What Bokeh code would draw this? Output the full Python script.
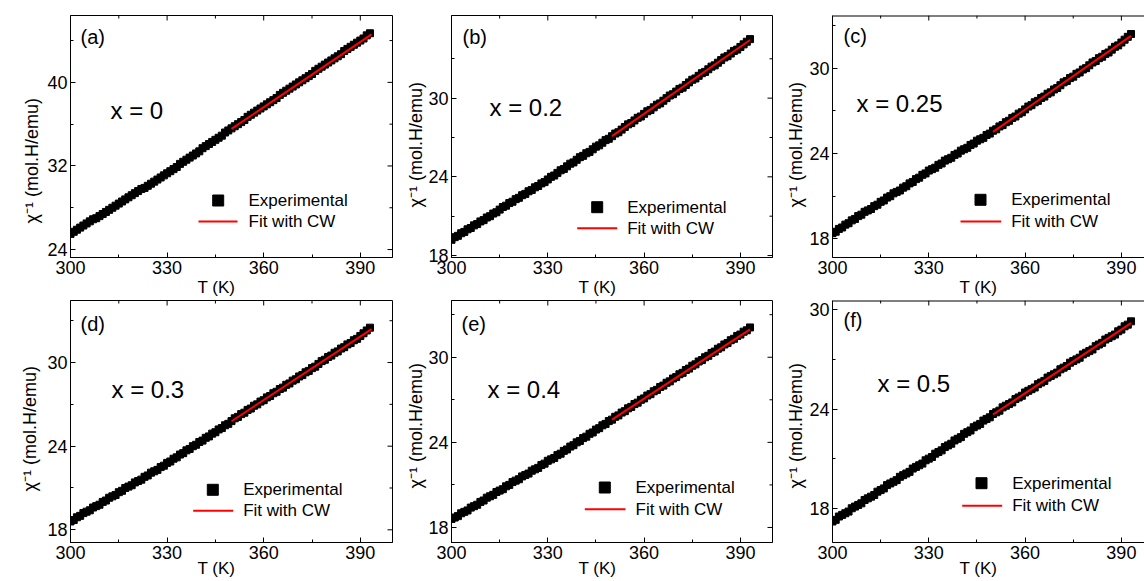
import math

from bokeh.embed import file_html
from bokeh.layouts import gridplot
from bokeh.models import FixedTicker, Label, Range1d, Title
from bokeh.plotting import figure
from bokeh.resources import INLINE

# ---------------------------------------------------------------- data
temperature = list(range(300, 394))  # K, one reading per kelvin

chi_inv_x000 = [
    25.5, 25.7, 25.9, 26.1, 26.3, 26.5, 26.7, 26.9, 27.0, 27.2,
    27.4, 27.6, 27.8, 28.0, 28.2, 28.4, 28.6, 28.8, 29.0, 29.2,
    29.4, 29.6, 29.8, 29.9, 30.1, 30.3, 30.5, 30.7, 30.9, 31.1,
    31.3, 31.5, 31.7, 31.9, 32.2, 32.4, 32.6, 32.8, 33.0, 33.2,
    33.4, 33.7, 33.9, 34.1, 34.3, 34.5, 34.7, 34.9, 35.2, 35.4,
    35.6, 35.8, 36.0, 36.2, 36.4, 36.7, 36.9, 37.1, 37.3, 37.5,
    37.7, 37.9, 38.1, 38.3, 38.5, 38.8, 39.0, 39.2, 39.4, 39.6,
    39.8, 40.0, 40.2, 40.4, 40.6, 40.8, 41.1, 41.3, 41.5, 41.7,
    41.9, 42.1, 42.3, 42.5, 42.7, 43.0, 43.2, 43.4, 43.6, 43.8,
    44.0, 44.2, 44.5, 44.7,
]
chi_inv_x020 = [
    19.2, 19.4, 19.5, 19.7, 19.8, 20.0, 20.1, 20.3, 20.4, 20.6,
    20.7, 20.9, 21.0, 21.2, 21.3, 21.5, 21.7, 21.8, 22.0, 22.1,
    22.3, 22.4, 22.6, 22.7, 22.9, 23.0, 23.2, 23.3, 23.5, 23.6,
    23.8, 24.0, 24.1, 24.3, 24.5, 24.6, 24.8, 25.0, 25.1, 25.3,
    25.5, 25.6, 25.8, 25.9, 26.1, 26.3, 26.4, 26.6, 26.8, 26.9,
    27.1, 27.3, 27.4, 27.6, 27.8, 28.0, 28.1, 28.3, 28.5, 28.6,
    28.8, 29.0, 29.1, 29.3, 29.5, 29.6, 29.8, 30.0, 30.2, 30.3,
    30.5, 30.7, 30.8, 31.0, 31.2, 31.4, 31.5, 31.7, 31.9, 32.0,
    32.2, 32.4, 32.5, 32.7, 32.9, 33.1, 33.2, 33.4, 33.6, 33.7,
    33.9, 34.1, 34.3, 34.5,
]
chi_inv_x025 = [
    18.4, 18.5, 18.7, 18.8, 19.0, 19.1, 19.3, 19.4, 19.6, 19.7,
    19.9, 20.0, 20.1, 20.3, 20.4, 20.6, 20.7, 20.9, 21.0, 21.2,
    21.3, 21.4, 21.6, 21.7, 21.9, 22.0, 22.2, 22.3, 22.5, 22.6,
    22.8, 22.9, 23.0, 23.2, 23.3, 23.5, 23.6, 23.7, 23.9, 24.0,
    24.2, 24.3, 24.4, 24.6, 24.7, 24.9, 25.0, 25.1, 25.3, 25.4,
    25.6, 25.7, 25.9, 26.0, 26.2, 26.3, 26.5, 26.6, 26.8, 26.9,
    27.1, 27.3, 27.4, 27.6, 27.7, 27.9, 28.0, 28.2, 28.3, 28.5,
    28.6, 28.8, 29.0, 29.1, 29.3, 29.4, 29.6, 29.7, 29.9, 30.0,
    30.2, 30.4, 30.5, 30.7, 30.8, 31.0, 31.1, 31.3, 31.5, 31.6,
    31.8, 32.0, 32.2, 32.4,
]
chi_inv_x030 = [
    18.6, 18.7, 18.9, 19.0, 19.2, 19.3, 19.4, 19.6, 19.7, 19.8,
    20.0, 20.1, 20.3, 20.4, 20.5, 20.7, 20.8, 21.0, 21.1, 21.2,
    21.4, 21.5, 21.6, 21.8, 21.9, 22.1, 22.2, 22.3, 22.5, 22.6,
    22.8, 22.9, 23.1, 23.2, 23.4, 23.5, 23.7, 23.8, 24.0, 24.1,
    24.3, 24.4, 24.6, 24.7, 24.9, 25.0, 25.2, 25.3, 25.5, 25.6,
    25.8, 26.0, 26.1, 26.3, 26.4, 26.6, 26.7, 26.9, 27.0, 27.2,
    27.3, 27.5, 27.6, 27.8, 27.9, 28.1, 28.2, 28.4, 28.5, 28.7,
    28.8, 29.0, 29.1, 29.3, 29.4, 29.6, 29.7, 29.9, 30.1, 30.2,
    30.4, 30.5, 30.7, 30.8, 31.0, 31.1, 31.3, 31.4, 31.6, 31.7,
    31.9, 32.1, 32.3, 32.5,
]
chi_inv_x040 = [
    18.6, 18.7, 18.8, 19.0, 19.1, 19.2, 19.4, 19.5, 19.6, 19.8,
    19.9, 20.1, 20.2, 20.3, 20.5, 20.6, 20.7, 20.9, 21.0, 21.2,
    21.3, 21.4, 21.6, 21.7, 21.8, 22.0, 22.1, 22.2, 22.4, 22.5,
    22.7, 22.8, 22.9, 23.1, 23.2, 23.4, 23.5, 23.7, 23.8, 24.0,
    24.1, 24.3, 24.4, 24.6, 24.7, 24.9, 25.0, 25.2, 25.3, 25.5,
    25.6, 25.8, 25.9, 26.1, 26.2, 26.4, 26.5, 26.7, 26.8, 27.0,
    27.1, 27.3, 27.4, 27.6, 27.7, 27.9, 28.0, 28.2, 28.3, 28.5,
    28.6, 28.8, 28.9, 29.1, 29.2, 29.4, 29.5, 29.7, 29.8, 30.0,
    30.1, 30.3, 30.4, 30.6, 30.7, 30.9, 31.0, 31.2, 31.3, 31.5,
    31.6, 31.8, 31.9, 32.1,
]
chi_inv_x050 = [
    17.2, 17.3, 17.5, 17.6, 17.7, 17.8, 18.0, 18.1, 18.2, 18.3,
    18.5, 18.6, 18.7, 18.8, 19.0, 19.1, 19.2, 19.4, 19.5, 19.6,
    19.7, 19.9, 20.0, 20.1, 20.2, 20.4, 20.5, 20.6, 20.7, 20.9,
    21.0, 21.1, 21.3, 21.4, 21.5, 21.7, 21.8, 21.9, 22.1, 22.2,
    22.3, 22.5, 22.6, 22.7, 22.9, 23.0, 23.1, 23.3, 23.4, 23.5,
    23.7, 23.8, 23.9, 24.1, 24.2, 24.3, 24.4, 24.6, 24.7, 24.8,
    25.0, 25.1, 25.2, 25.3, 25.5, 25.6, 25.7, 25.9, 26.0, 26.1,
    26.2, 26.4, 26.5, 26.6, 26.8, 26.9, 27.0, 27.1, 27.3, 27.4,
    27.5, 27.6, 27.8, 27.9, 28.0, 28.2, 28.3, 28.4, 28.5, 28.7,
    28.8, 29.0, 29.1, 29.3,
]

# Curie-Weiss fits over the high-temperature part (end points)
fit_T_x000 = [350, 393.5]
fit_chi_x000 = [35.55, 44.6]
fit_T_x020 = [350, 393]
fit_chi_x020 = [27.1, 34.43]
fit_T_x025 = [350, 393]
fit_chi_x025 = [25.52, 32.27]
fit_T_x030 = [350, 393.5]
fit_chi_x030 = [25.79, 32.4]
fit_T_x040 = [350, 393]
fit_chi_x040 = [25.6, 31.97]
fit_T_x050 = [350, 393]
fit_chi_x050 = [23.67, 29.19]

compositions = ["x = 0", "x = 0.2", "x = 0.25", "x = 0.3", "x = 0.4", "x = 0.5"]
panel_tags = ["(a)", "(b)", "(c)", "(d)", "(e)", "(f)"]
legend_labels = ["Experimental", "Fit with CW"]
x_label = "T (K)"
y_label = "\u03c7\u207b\u00b9 (mol.H/emu)"

x_major_ticks = [300, 330, 360, 390]
x_minor_ticks = [315, 345, 375]
y_major_ticks_x000 = [24, 32, 40]
y_minor_ticks_x000 = [28, 36, 44]
y_major_ticks = [18, 24, 30]
y_minor_ticks = [15, 21, 27, 33]

measured = [chi_inv_x000, chi_inv_x020, chi_inv_x025,
            chi_inv_x030, chi_inv_x040, chi_inv_x050]
fit_T = [fit_T_x000, fit_T_x020, fit_T_x025, fit_T_x030, fit_T_x040, fit_T_x050]
fit_chi = [fit_chi_x000, fit_chi_x020, fit_chi_x025,
           fit_chi_x030, fit_chi_x040, fit_chi_x050]

# ---------------------------------------------------------------- layout
FONT = "Liberation Sans"
FRAME_W = [322, 321, 312]
FRAME_H = 242
BORDER_L = [70, 49, 50]
BORDER_R = [10, 10, 0]
BORDER_T = [15, 1]
BORDER_B = [42, 39]
X_END = [400, 400, 397.2]
Y_LIMITS = [(23.24, 46.4), (17.85, 36.3), (16.69, 33.7),
            (17.09, 34.45), (16.94, 34.0), (15.93, 30.56)]
MAJOR_LEN, MINOR_LEN = 5, 3

# offsets in pixels from the frame's top-left corner
TAG_POS = [(10, 21), (11, 21), (11, 20), (10, 23), (10, 23), (11, 19)]
COMP_POS = [(40, 95), (38, 92), (24, 88), (41, 89), (36, 89), (45, 83)]
LEG_SQ = [(147.7, 185), (145.7, 191.7), (148, 184.3),
          (142.3, 189.3), (153.3, 187), (149, 182.7)]
LEG_LINE = [(128, 167, 206), (125.7, 165.7, 212.7), (128, 168.7, 206),
            (122.7, 162.7, 210.3), (133.3, 174, 208.7), (129.7, 169.7, 205.3)]
LEG_TEXT_X = [178, 175.7, 178.7, 172.7, 184, 179.7]
# y title: (shift up from frame bottom, gap to tick labels)
YTITLE = [(34, 6), (50, 0), (50, 2), (51, 10), (54, 0), (54, 1)]
# x title: (start from frame left, gap to tick labels) per row
XTITLE = [(127, -2), (127, -9)]


def style_axis(ax):
    ax.axis_line_color = "black"
    ax.axis_line_width = 1
    ax.major_tick_line_color = "black"
    ax.minor_tick_line_color = "black"
    ax.major_tick_in = MAJOR_LEN
    ax.major_tick_out = 0
    ax.minor_tick_in = MINOR_LEN
    ax.minor_tick_out = 0
    ax.axis_label = None
    ax.major_label_text_font = FONT
    ax.major_label_text_font_size = "18px"
    ax.major_label_text_color = "black"
    ax.major_label_standoff = 3


def build_panel(i):
    r, c = divmod(i, 3)
    x0, x1 = 300, X_END[c]
    y0, y1 = Y_LIMITS[i]
    W = FRAME_W[c]
    kx = (x1 - x0) / W
    ky = (y1 - y0) / FRAME_H

    def at(dx, dy):
        return x0 + dx * kx, y1 - dy * ky

    p = figure(
        width=BORDER_L[c] + W + BORDER_R[c],
        height=BORDER_T[r] + FRAME_H + BORDER_B[r],
        x_range=Range1d(x0, x1), y_range=Range1d(y0, y1),
        output_backend="svg", toolbar_location=None,
        min_border_left=BORDER_L[c], min_border_right=BORDER_R[c],
        min_border_top=BORDER_T[r], min_border_bottom=BORDER_B[r],
    )
    p.outline_line_color = "black" if c < 2 else None
    p.outline_line_width = 1
    p.background_fill_color = "white"
    p.border_fill_color = "white"
    p.xgrid.visible = False
    p.ygrid.visible = False

    if i == 0:
        ymaj, ymin = y_major_ticks_x000, y_minor_ticks_x000
    else:
        ymaj, ymin = y_major_ticks, y_minor_ticks
    p.xaxis.ticker = FixedTicker(ticks=x_major_ticks, minor_ticks=x_minor_ticks)
    p.yaxis.ticker = FixedTicker(ticks=ymaj, minor_ticks=ymin)
    for ax in p.xaxis + p.yaxis:
        style_axis(ax)

    # mirrored ticks on the top (and right) edges
    tx = x_major_ticks + x_minor_ticks
    tl = [MAJOR_LEN] * len(x_major_ticks) + [MINOR_LEN] * len(x_minor_ticks)
    p.segment(x0=tx, y0=[y1] * len(tx), x1=tx, y1=[y1 - L * ky for L in tl],
              line_color="black", line_width=1)
    if c < 2:
        ty = [v for v in ymaj + ymin if y0 < v < y1]
        tl = [MAJOR_LEN if v in ymaj else MINOR_LEN for v in ty]
        p.segment(x0=[x1] * len(ty), y0=ty, x1=[x1 - L * kx for L in tl], y1=ty,
                  line_color="black", line_width=1)
    else:
        p.line([x0, x1], [y1, y1], line_color="black", line_width=2)

    # measurements and Curie-Weiss fit
    p.scatter(temperature, measured[i], marker="square", size=7,
              fill_color="black", line_color="black")
    p.line(fit_T[i], fit_chi[i], line_color="#ff0000", line_width=2)

    # legend
    sx, sy = at(*LEG_SQ[i])
    p.scatter([sx], [sy], marker="square", size=11,
              fill_color="black", line_color="black")
    lx0, ly = at(LEG_LINE[i][0], LEG_LINE[i][2])
    lx1, _ = at(LEG_LINE[i][1], LEG_LINE[i][2])
    p.line([lx0, lx1], [ly, ly], line_color="#ff0000", line_width=2)
    tx0, _ = at(LEG_TEXT_X[i], 0)
    for lab, yy in zip(legend_labels, [sy, ly]):
        p.add_layout(Label(x=tx0, y=yy, text=lab, text_font=FONT,
                           text_font_size="17px", text_color="black",
                           text_align="left", text_baseline="middle"))

    # panel tag and composition
    gx, gy = at(*TAG_POS[i])
    p.add_layout(Label(x=gx, y=gy, text=panel_tags[i], text_font=FONT,
                       text_font_size="20px", text_color="black",
                       text_align="left", text_baseline="middle"))
    cx, cy = at(*COMP_POS[i])
    p.add_layout(Label(x=cx, y=cy, text=compositions[i], text_font=FONT,
                       text_font_size="24px", text_color="black",
                       text_align="left", text_baseline="middle"))

    # axis titles
    p.add_layout(Title(text=x_label, align="left", offset=XTITLE[r][0],
                       standoff=XTITLE[r][1], text_font=FONT,
                       text_font_size="17px", text_font_style="normal",
                       text_color="black"), "below")
    p.add_layout(Title(text=y_label, align="left", offset=YTITLE[i][0],
                       standoff=YTITLE[i][1], text_font=FONT,
                       text_font_size="18px", text_font_style="normal",
                       text_color="black"), "left")
    return p


panels = [build_panel(i) for i in range(6)]
grid = gridplot([panels[:3], panels[3:]], toolbar_location=None)

open("out.html", "w").write(file_html(grid, INLINE))
